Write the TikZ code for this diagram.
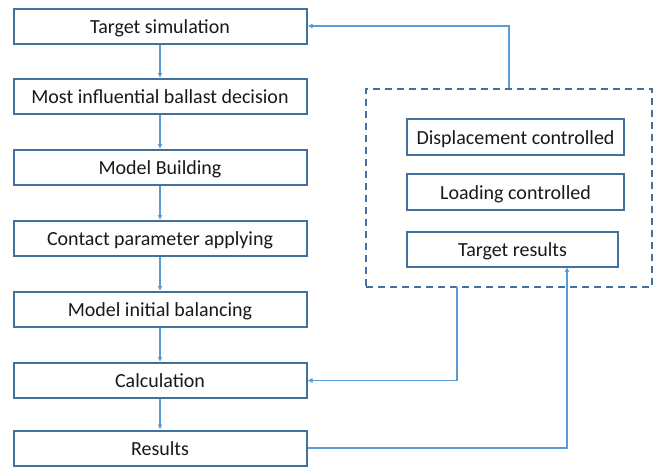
\documentclass[tikz,border=0pt]{standalone}
\usepackage{fontspec}
\setmainfont{Carlito}
\usetikzlibrary{arrows.meta}
\definecolor{boxblue}{HTML}{41719C}
\definecolor{arrblue}{HTML}{5B9BD5}
\begin{document}
\begin{tikzpicture}[x=1pt,y=-1pt,
  box/.style={draw=boxblue,line width=2pt,fill=white,inner sep=0pt,font=\fontsize{20}{24}\selectfont,text=black!90,text height=17pt,text depth=3pt},
  conn/.style={draw=arrblue,line width=1.6pt,-{Latex[length=5pt,width=5pt]}}]
\useasboundingbox (0,0) rectangle (660,466);
\def\lb#1#2#3{\node[box,minimum width=293pt,minimum height=35pt] (#1) at (160,#2) {#3};}
\lb{s1}{26}{Target simulation}
\lb{s2}{96.5}{Most influential ballast decision}
\lb{s3}{167.5}{Model Building}
\lb{s4}{238.5}{Contact parameter applying}
\lb{s5}{309.5}{Model initial balancing}
\lb{s6}{380.5}{Calculation}
\lb{s7}{448}{Results}
\node[draw=boxblue,line width=2pt,dash pattern=on 7pt off 5pt,minimum width=286pt,minimum height=198pt,inner sep=0pt] (grp) at (509,188) {};
\node[box,minimum width=217pt,minimum height=36pt] (d1) at (515.5,137) {Displacement controlled};
\node[box,minimum width=217pt,minimum height=36pt] (d2) at (515.5,192) {Loading controlled};
\node[box,minimum width=211pt,minimum height=35pt] (d3) at (512.5,249.5) {Target results};
\foreach \a/\b in {s1/s2,s2/s3,s3/s4,s4/s5,s5/s6,s6/s7}
  \draw[conn] (\a) -- (\b);
\coordinate (g1) at (509,26);
\draw[conn] (grp.north) -- (g1) -- (s1.east);
\coordinate (g2) at (457,287);
\coordinate (g3) at (457,380.5);
\draw[conn] (g2) -- (g3) -- (s6.east);
\coordinate (r1) at (567,448);
\coordinate (r2) at (567,267);
\draw[conn] (s7.east) -- (r1) -- (r2);
\end{tikzpicture}
\end{document}
